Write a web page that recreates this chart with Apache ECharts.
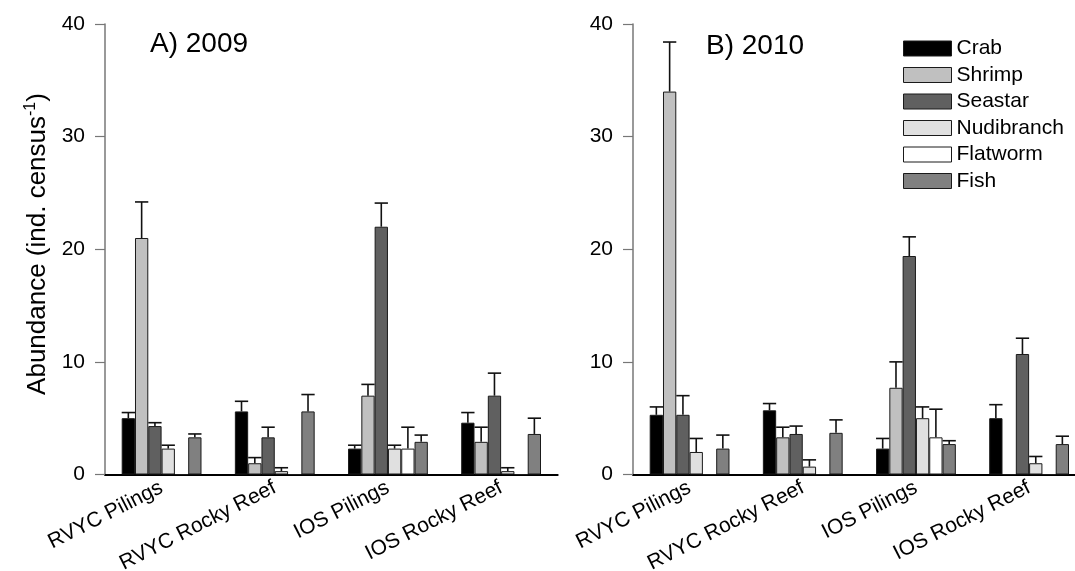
<!DOCTYPE html>
<html>
<head>
<meta charset="utf-8">
<script src="https://cdn.jsdelivr.net/npm/echarts@6/dist/echarts.min.js"></script>
<style>
  html, body { margin: 0; padding: 0; background: #fff; }
  #chart { width: 1075px; height: 571px; }
</style>
</head>
<body>
<div id="chart"></div>
<script>
// Sites surveyed
const sites = ['RVYC Pilings', 'RVYC Rocky Reef', 'IOS Pilings', 'IOS Rocky Reef'];
const species = ['Crab', 'Shrimp', 'Seastar', 'Nudibranch', 'Flatworm', 'Fish'];
const yTicks = [0, 10, 20, 30, 40];

// 2009 mean abundance per census and standard error
const crab2009 = [5.0, 5.6, 2.3, 4.6];
const crab2009Se = [0.5, 0.9, 0.3, 0.9];
const shrimp2009 = [21.0, 1.0, 7.0, 2.9];
const shrimp2009Se = [3.2, 0.5, 1.0, 1.3];
const seastar2009 = [4.3, 3.3, 22.0, 7.0];
const seastar2009Se = [0.3, 0.9, 2.1, 2.0];
const nudibranch2009 = [2.3, 0.3, 2.3, 0.3];
const nudibranch2009Se = [0.3, 0.3, 0.3, 0.3];
const flatworm2009 = [0, 0, 2.3, 0];
const flatworm2009Se = [0, 0, 1.9, 0];
const fish2009 = [3.3, 5.6, 2.9, 3.6];
const fish2009Se = [0.3, 1.5, 0.6, 1.4];

// 2010 mean abundance per census and standard error
const crab2010 = [5.3, 5.7, 2.3, 5.0];
const crab2010Se = [0.7, 0.6, 0.9, 1.2];
const shrimp2010 = [34.0, 3.3, 7.7, 0];
const shrimp2010Se = [4.4, 0.9, 2.3, 0];
const seastar2010 = [5.3, 3.6, 19.4, 10.7];
const seastar2010Se = [1.7, 0.7, 1.7, 1.4];
const nudibranch2010 = [2.0, 0.7, 5.0, 1.0];
const nudibranch2010Se = [1.2, 0.6, 1.0, 0.6];
const flatworm2010 = [0, 0, 3.3, 0];
const flatworm2010Se = [0, 0, 2.5, 0];
const fish2010 = [2.3, 3.7, 2.7, 2.7];
const fish2010Se = [1.2, 1.15, 0.3, 0.7];

const panels = [
  { title: 'A) 2009',
    means: [crab2009, shrimp2009, seastar2009, nudibranch2009, flatworm2009, fish2009],
    errs: [crab2009Se, shrimp2009Se, seastar2009Se, nudibranch2009Se, flatworm2009Se, fish2009Se] },
  { title: 'B) 2010',
    means: [crab2010, shrimp2010, seastar2010, nudibranch2010, flatworm2010, fish2010],
    errs: [crab2010Se, shrimp2010Se, seastar2010Se, nudibranch2010Se, flatworm2010Se, fish2010Se] }
];

const fills = ['#000000', '#c0c0c0', '#606060', '#e0e0e0', '#ffffff', '#808080'];
const FONT = "'Liberation Sans', Arial, sans-serif";
const BAR_W = 13.3;

const chart = echarts.init(document.getElementById('chart'), null, { renderer: 'canvas' });

const grids = [
  { left: 105, top: 24, width: 452.7, height: 450.5, outerBoundsMode: 'none', containLabel: false },
  { left: 633, top: 24, width: 452.7, height: 450.5, outerBoundsMode: 'none', containLabel: false }
];

const xAxes = grids.map((g, i) => ({
  type: 'category',
  gridIndex: i,
  data: sites,
  axisLine: { lineStyle: { color: '#000', width: 2 } },
  axisTick: { alignWithLabel: true, length: 6, lineStyle: { color: '#555', width: 1.2 } },
  axisLabel: { rotate: 27, margin: 12, color: '#000', fontSize: 21, fontFamily: FONT, interval: 0 },
  splitLine: { show: false }
}));

const yAxes = grids.map((g, i) => ({
  type: 'value',
  gridIndex: i,
  min: yTicks[0],
  max: yTicks[yTicks.length - 1],
  interval: yTicks[1] - yTicks[0],
  axisLine: { show: true, lineStyle: { color: '#777', width: 1.5 } },
  axisTick: { show: true, length: 10, lineStyle: { color: '#777', width: 1.2 } },
  axisLabel: { color: '#000', fontSize: 21, fontFamily: FONT, margin: 20 },
  splitLine: { show: false }
}));

const series = [];
panels.forEach((p, pi) => {
  species.forEach((name, si) => {
    series.push({
      name: name,
      type: 'bar',
      xAxisIndex: pi,
      yAxisIndex: pi,
      data: p.means[si],
      barWidth: BAR_W,
      barGap: '0%',
      itemStyle: { color: fills[si], borderColor: '#1a1a1a', borderWidth: 1 },
      emphasis: { disabled: true },
      z: 2
    });
  });
  // upper standard-error whiskers
  const errData = [];
  species.forEach((name, si) => {
    p.means[si].forEach((m, ci) => {
      if (m > 0) errData.push([ci, si, m, m + p.errs[si][ci]]);
    });
  });
  series.push({
    type: 'custom',
    xAxisIndex: pi,
    yAxisIndex: pi,
    data: errData,
    z: 3,
    silent: true,
    renderItem: function (params, api) {
      const ci = api.value(0), si = api.value(1);
      const lo = api.coord([ci, api.value(2)]);
      const hi = api.coord([ci, api.value(3)]);
      const x = lo[0] + (si - (species.length - 1) / 2) * BAR_W;
      const half = BAR_W / 2;
      const style = { stroke: '#111', lineWidth: 1.6 };
      return {
        type: 'group',
        children: [
          { type: 'line', shape: { x1: x, y1: lo[1], x2: x, y2: hi[1] }, style: style },
          { type: 'line', shape: { x1: x - half, y1: hi[1], x2: x + half, y2: hi[1] }, style: style }
        ]
      };
    }
  });
});

chart.setOption({
  animation: false,
  backgroundColor: '#fff',
  title: [
    { text: panels[0].title, left: 145, top: 25, textStyle: { fontSize: 28, fontWeight: 'normal', color: '#000', fontFamily: FONT } },
    { text: panels[1].title, left: 701, top: 27, textStyle: { fontSize: 28, fontWeight: 'normal', color: '#000', fontFamily: FONT } }
  ],
  legend: {
    data: species,
    orient: 'vertical',
    left: 898,
    top: 33,
    icon: 'rect',
    itemWidth: 48,
    itemHeight: 15,
    itemGap: 5.5,
    selectedMode: false,
    textStyle: { fontSize: 21, fontFamily: FONT, color: '#000', lineHeight: 20, padding: [0, 0, 0, 0] },
    itemStyle: { borderColor: '#1a1a1a', borderWidth: 1 }
  },
  graphic: [{
    type: 'text',
    x: 38,
    y: 244,
    rotation: Math.PI / 2,
    style: {
      text: '{a|Abundance (ind. census}{s|-1}{a|)}',
      align: 'center',
      verticalAlign: 'middle',
      fill: '#000',
      rich: {
        a: { fontSize: 26, fontFamily: FONT, color: '#000', lineHeight: 30 },
        s: { fontSize: 16, fontFamily: FONT, color: '#000', verticalAlign: 'top', lineHeight: 30 }
      }
    }
  }],
  grid: grids,
  xAxis: xAxes,
  yAxis: yAxes,
  series: series
});
</script>
</body>
</html>
